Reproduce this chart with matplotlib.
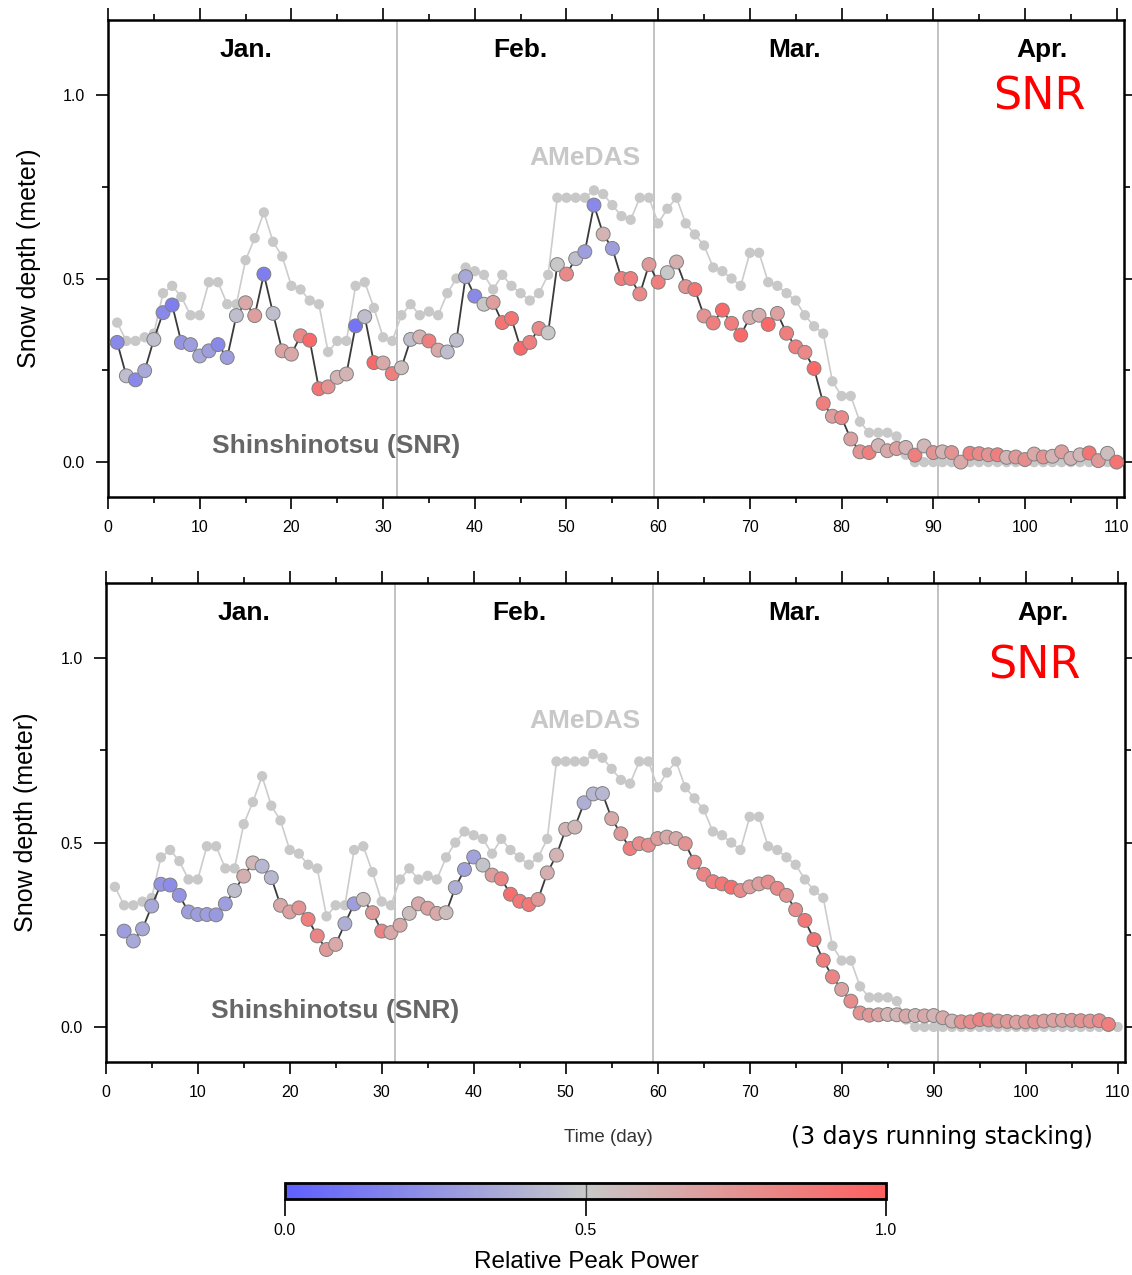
import numpy as np
import matplotlib
matplotlib.use("Agg")
import matplotlib.pyplot as plt
from matplotlib.colors import LinearSegmentedColormap, Normalize
from matplotlib.ticker import MultipleLocator
import matplotlib as mpl

plt.rcParams['font.family'] = ['Liberation Sans', 'DejaVu Sans']

# ---- data -------------------------------------------------------------
# AMeDAS snow depth (m), days 1..110
amedas_depth = [
    0.38, 0.33, 0.33, 0.34, 0.35, 0.46, 0.48, 0.45, 0.40, 0.40,
    0.49, 0.49, 0.43, 0.43, 0.55, 0.61, 0.68, 0.60, 0.56, 0.48,
    0.47, 0.44, 0.43, 0.30, 0.33, 0.33, 0.48, 0.49, 0.42, 0.34,
    0.33, 0.40, 0.43, 0.40, 0.41, 0.40, 0.46, 0.50, 0.53, 0.52,
    0.51, 0.47, 0.51, 0.48, 0.46, 0.44, 0.46, 0.51, 0.72, 0.72,
    0.72, 0.72, 0.74, 0.73, 0.70, 0.67, 0.66, 0.72, 0.72, 0.65,
    0.69, 0.72, 0.65, 0.62, 0.59, 0.53, 0.52, 0.50, 0.48, 0.57,
    0.57, 0.49, 0.48, 0.46, 0.44, 0.40, 0.37, 0.35, 0.22, 0.18,
    0.18, 0.11, 0.08, 0.08, 0.08, 0.07, 0.02, 0.00, 0.00, 0.00,
    0.00, 0.00, 0.00, 0.00, 0.00, 0.00, 0.00, 0.00, 0.00, 0.00,
    0.00, 0.00, 0.00, 0.00, 0.00, 0.00, 0.00, 0.00, 0.00, 0.00,
]
amedas_days = list(range(1, 111))

# SNR estimate, daily (days 1..110)
snr_daily = [
    0.326, 0.235, 0.224, 0.249, 0.334, 0.407, 0.428, 0.326, 0.320, 0.289,
    0.303, 0.320, 0.285, 0.399, 0.434, 0.399, 0.512, 0.405, 0.303, 0.294,
    0.344, 0.332, 0.200, 0.205, 0.231, 0.240, 0.371, 0.396, 0.271, 0.270,
    0.241, 0.257, 0.334, 0.341, 0.330, 0.305, 0.300, 0.332, 0.505, 0.452,
    0.430, 0.435, 0.380, 0.391, 0.310, 0.326, 0.364, 0.352, 0.538, 0.512,
    0.554, 0.573, 0.700, 0.621, 0.582, 0.500, 0.500, 0.458, 0.538, 0.490,
    0.516, 0.545, 0.478, 0.470, 0.398, 0.379, 0.414, 0.378, 0.346, 0.394,
    0.400, 0.375, 0.405, 0.351, 0.314, 0.299, 0.255, 0.160, 0.125, 0.121,
    0.063, 0.028, 0.026, 0.045, 0.031, 0.037, 0.040, 0.019, 0.044, 0.026,
    0.028, 0.026, 0.000, 0.024, 0.023, 0.020, 0.020, 0.013, 0.014, 0.007,
    0.022, 0.014, 0.016, 0.028, 0.010, 0.020, 0.025, 0.004, 0.024, 0.000,
]
power_daily = [
    0.20, 0.45, 0.20, 0.35, 0.45, 0.20, 0.15, 0.25, 0.30, 0.35,
    0.30, 0.20, 0.30, 0.45, 0.65, 0.70, 0.15, 0.45, 0.68, 0.65,
    0.80, 0.95, 0.90, 0.75, 0.60, 0.60, 0.10, 0.45, 0.95, 0.65,
    0.85, 0.55, 0.45, 0.60, 0.85, 0.65, 0.45, 0.45, 0.35, 0.20,
    0.50, 0.70, 0.90, 0.90, 0.95, 0.85, 0.80, 0.50, 0.50, 0.80,
    0.45, 0.30, 0.20, 0.60, 0.30, 0.85, 0.85, 0.80, 0.72, 0.85,
    0.50, 0.62, 0.75, 0.90, 0.75, 0.85, 0.95, 0.85, 0.95, 0.62,
    0.62, 0.95, 0.68, 0.85, 0.85, 0.80, 0.95, 0.85, 0.70, 0.80,
    0.68, 0.75, 0.85, 0.58, 0.65, 0.70, 0.60, 0.85, 0.58, 0.75,
    0.60, 0.75, 0.65, 0.85, 0.80, 0.75, 0.85, 0.60, 0.72, 0.78,
    0.65, 0.75, 0.60, 0.70, 0.60, 0.58, 0.90, 0.72, 0.55, 0.90,
]
snr_days = list(range(1, 111))

# SNR estimate, 3-day running stack (days 2..109)
snr_stack = [
    0.260, 0.233, 0.266, 0.328, 0.387, 0.385, 0.357, 0.312, 0.305,
    0.305, 0.304, 0.334, 0.370, 0.409, 0.445, 0.436, 0.405, 0.330, 0.312,
    0.323, 0.292, 0.247, 0.210, 0.224, 0.280, 0.334, 0.346, 0.310, 0.260,
    0.256, 0.276, 0.308, 0.334, 0.322, 0.308, 0.310, 0.378, 0.427, 0.461,
    0.439, 0.412, 0.402, 0.360, 0.341, 0.332, 0.346, 0.418, 0.466, 0.536,
    0.542, 0.608, 0.632, 0.633, 0.565, 0.524, 0.484, 0.497, 0.493, 0.511,
    0.515, 0.511, 0.497, 0.447, 0.414, 0.394, 0.388, 0.379, 0.370, 0.380,
    0.388, 0.393, 0.376, 0.357, 0.318, 0.289, 0.237, 0.181, 0.136, 0.102,
    0.070, 0.038, 0.032, 0.033, 0.034, 0.033, 0.030, 0.031, 0.030, 0.031,
    0.025, 0.016, 0.014, 0.014, 0.020, 0.019, 0.016, 0.015, 0.013, 0.014,
    0.014, 0.016, 0.018, 0.018, 0.018, 0.017, 0.016, 0.017, 0.007,
]
power_stack = [
    0.30, 0.35, 0.35, 0.35, 0.25, 0.22, 0.25, 0.30, 0.30,
    0.30, 0.28, 0.30, 0.45, 0.62, 0.58, 0.42, 0.42, 0.65, 0.68,
    0.75, 0.85, 0.82, 0.72, 0.65, 0.38, 0.30, 0.55, 0.72, 0.82,
    0.65, 0.65, 0.55, 0.65, 0.68, 0.65, 0.55, 0.38, 0.32, 0.32,
    0.48, 0.70, 0.82, 0.92, 0.88, 0.88, 0.72, 0.62, 0.60, 0.60,
    0.58, 0.38, 0.42, 0.42, 0.65, 0.72, 0.85, 0.78, 0.78, 0.70,
    0.65, 0.65, 0.75, 0.80, 0.82, 0.85, 0.88, 0.92, 0.80, 0.70,
    0.70, 0.78, 0.80, 0.75, 0.78, 0.88, 0.90, 0.85, 0.82, 0.68,
    0.78, 0.75, 0.72, 0.68, 0.60, 0.60, 0.65, 0.60, 0.65, 0.60,
    0.65, 0.60, 0.75, 0.78, 0.82, 0.80, 0.72, 0.72, 0.68, 0.72,
    0.75, 0.70, 0.68, 0.68, 0.72, 0.75, 0.75, 0.80, 0.85,
]
stack_days = list(range(2, 110))

month_names = ["Jan.", "Feb.", "Mar.", "Apr."]
month_label_x = [15.0, 45.0, 74.9, 101.9]
month_bounds = [31.5, 59.5, 90.5]

# ---- styling ----------------------------------------------------------
cmap = LinearSegmentedColormap.from_list(
    "bgr", [(0.0, "#5f5fff"), (0.5, "#c8c8c8"), (1.0, "#ff5f5f")])
norm = Normalize(0.0, 1.0)

W, H = 1132, 1275
fig = plt.figure(figsize=(W / 100, H / 100), dpi=100)


def frac_axes(left, top, right, bottom):
    return fig.add_axes([left / W, 1 - bottom / H, (right - left) / W, (bottom - top) / H])


def style_axes(ax):
    ax.set_xlim(0, 110.8)
    ax.set_ylim(-0.095, 1.204)
    for s in ax.spines.values():
        s.set_linewidth(1.8)
    ax.xaxis.set_major_locator(MultipleLocator(10))
    ax.xaxis.set_minor_locator(MultipleLocator(5))
    ax.yaxis.set_major_locator(MultipleLocator(0.5))
    ax.yaxis.set_minor_locator(MultipleLocator(0.25))
    ax.tick_params(which="both", direction="out", top=True, right=True,
                   labeltop=False, labelright=False, width=1.2, labelsize=11.5,
                   colors="black")
    ax.tick_params(which="major", length=8.5, pad=8)
    ax.tick_params(which="minor", length=4)
    ax.set_yticklabels([f"{v:.1f}" for v in ax.get_yticks()])
    ax.set_ylabel("Snow depth (meter)", fontsize=18, labelpad=16)
    for xb in month_bounds:
        ax.axvline(xb, color="#bdbdbd", lw=1.3, zorder=1)
    for name, xm in zip(month_names, month_label_x):
        ax.text(xm, 1.122, name, ha="center", va="center",
                fontsize=19, fontweight="bold", color="black")


def draw_panel(ax, days, depth, power, snr_xy, amedas_xy, shin_xy):
    style_axes(ax)
    ax.plot(amedas_days, amedas_depth, color="#cccccc", lw=1.2, zorder=2)
    ax.scatter(amedas_days, amedas_depth, s=55, color="#c8c8c8",
               edgecolors="none", zorder=3)
    ax.plot(days, depth, color="#3a3a3a", lw=1.3, zorder=4)
    ax.scatter(days, depth, s=100, c=power, cmap=cmap, norm=norm,
               edgecolors="#808080", linewidths=0.7, zorder=5)
    ax.text(*amedas_xy, "AMeDAS", ha="center", va="center", fontsize=19,
            fontweight="bold", color="#c8c8c8")
    ax.text(*shin_xy, "Shinshinotsu (SNR)", ha="center", va="center",
            fontsize=19, fontweight="bold", color="#666666")
    ax.text(*snr_xy, "SNR", ha="center", va="center", fontsize=32,
            color="#ff0000", family="DejaVu Sans")


ax1 = frac_axes(108, 20, 1124, 497)
draw_panel(ax1, snr_days, snr_daily, power_daily,
           (101.6, 0.995), (52.0, 0.828), (24.9, 0.044))

ax2 = frac_axes(105.7, 583, 1125, 1062)
draw_panel(ax2, stack_days, snr_stack, power_stack,
           (101.0, 0.98), (52.1, 0.829), (24.9, 0.043))

fig.text(608 / W, 1 - 1137 / H, "Time (day)", ha="center", va="center",
         fontsize=13.5, color="#333333")
fig.text(942 / W, 1 - 1137 / H, "(3 days running stacking)", ha="center",
         va="center", fontsize=17, color="black", family="DejaVu Sans")

# colour bar
cax = fig.add_axes([285 / W, 1 - 1199 / H, 601 / W, 16 / H])
cb = fig.colorbar(mpl.cm.ScalarMappable(norm=norm, cmap=cmap), cax=cax,
                  orientation="horizontal", ticks=[0.0, 0.5, 1.0])
cb.outline.set_linewidth(2.0)
cax.tick_params(direction="out", length=12, width=1.2, labelsize=11.5, pad=5)
cax.set_xticklabels(["0.0", "0.5", "1.0"])
cax.axvline(0.5, color="#555555", lw=1.0)
fig.text(586 / W, 1 - 1262 / H, "Relative Peak Power", ha="center",
         va="center", fontsize=17.5, color="black")

fig.savefig("out.png", dpi=100)
